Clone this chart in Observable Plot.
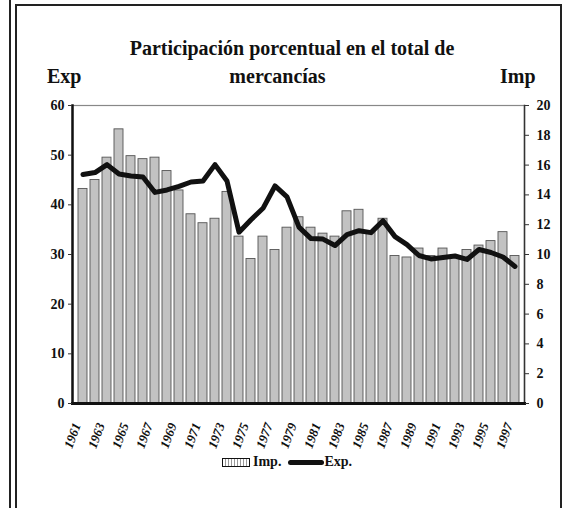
<!DOCTYPE html>
<html>
<head>
<meta charset="utf-8">
<script src="https://cdn.jsdelivr.net/npm/d3@7"></script>
<script src="https://cdn.jsdelivr.net/npm/@observablehq/plot@0.6"></script>
<style>
  body { margin: 0; background: #fff; }
  #wrap { position: relative; width: 569px; height: 508px; overflow: hidden; font-family: "Liberation Serif", serif; font-weight: bold; color: #111; }
  #wrap svg { position: absolute; left: 0; top: 0; }
  .t { position: absolute; white-space: nowrap; line-height: 1; }
  .vline { position: absolute; background: #222; }
</style>
</head>
<body>
<div id="wrap">
  <div class="vline" style="left:9px;top:0;width:2px;height:508px"></div>
  <div style="position:absolute;left:15px;top:4px;width:543px;height:520px;border:2px solid #222;border-bottom:none;"></div>
  <div class="t" style="left:0;width:584px;text-align:center;top:38px;font-size:20px;">Participación porcentual en el total de</div>
  <div class="t" style="left:0;width:555px;text-align:center;top:66px;font-size:20px;">mercancías</div>
  <div class="t" style="left:47px;top:66px;font-size:20px;">Exp</div>
  <div class="t" style="left:500px;top:66px;font-size:20px;">Imp</div>
  <div id="legend" class="t" style="left:222px;top:455px;font-size:14px;display:flex;align-items:center;">
    <span style="display:inline-block;width:26px;height:7px;border:1.5px solid #111;background:repeating-linear-gradient(90deg,#fff 0 2px,#999 2px 3px);"></span>
    <span style="margin-left:3px;">Imp.</span>
    <span style="display:inline-block;width:36px;height:5px;background:#111;border-radius:3px;margin-left:7px;"></span>
    <span>Exp.</span>
  </div>
</div>
<script>
const years = [1961,1962,1963,1964,1965,1966,1967,1968,1969,1970,1971,1972,1973,1974,1975,1976,1977,1978,1979,1980,1981,1982,1983,1984,1985,1986,1987,1988,1989,1990,1991,1992,1993,1994,1995,1996,1997];
const impValues = [14.4,15.0,16.5,18.4,16.6,16.4,16.5,15.6,14.3,12.7,12.1,12.4,14.2,11.2,9.7,11.2,10.3,11.8,12.5,11.8,11.4,11.2,12.9,13.0,11.5,12.4,9.9,9.8,10.4,9.9,10.4,9.9,10.3,10.6,10.9,11.5,9.9];
const expValues = [46.1,46.5,48.1,46.2,45.8,45.6,42.5,43.0,43.7,44.6,44.8,48.1,44.8,34.5,37.0,39.3,43.8,41.6,35.5,33.2,33.1,31.8,34.0,34.8,34.4,36.8,33.6,32.0,29.8,29.1,29.4,29.7,29.0,31.0,30.4,29.5,27.6];
const expTicks = [0,10,20,30,40,50,60];
const impTicks = [0,2,4,6,8,10,12,14,16,18,20];
const yearLabels = [1961,1963,1965,1967,1969,1971,1973,1975,1977,1979,1981,1983,1985,1987,1989,1991,1993,1995,1997];

const ratio = 60 / 20; // right axis (Imp) mapped onto left axis (Exp)
const rows = years.map((year, i) => ({year, imp: impValues[i], exp: expValues[i]}));

const font = {fontFamily: "Liberation Serif", fontWeight: "bold"};

const chart = Plot.plot({
  width: 569,
  height: 508,
  marginLeft: 72,
  marginRight: 45,
  marginTop: 105,
  marginBottom: 105,
  style: {background: "transparent", overflow: "visible"},
  x: {type: "band", domain: years, paddingInner: 0.28, paddingOuter: 0.14},
  y: {domain: [0, 60]},
  marks: [
    Plot.barY(rows, {x: "year", y: d => d.imp * ratio, fill: "#c2c2c2", stroke: "#555", strokeWidth: 0.9}),
    Plot.frame({stroke: "#888", strokeWidth: 1.2}),
    Plot.frame({anchor: "left", stroke: "#111", strokeWidth: 2.5}),
    Plot.frame({anchor: "right", stroke: "#333", strokeWidth: 1.5}),
    Plot.frame({anchor: "bottom", stroke: "#111", strokeWidth: 3}),
    Plot.line(rows, {x: "year", y: "exp", stroke: "#111", strokeWidth: 5, strokeLinejoin: "round", strokeLinecap: "round"}),
    Plot.axisY(expTicks, {anchor: "left", tickSize: 4, tickPadding: 4, fontSize: 14, ...font, fill: "#111", stroke: "#333", label: null}),
    Plot.axisY(impTicks.map(v => v * ratio), {anchor: "right", tickSize: 4, tickPadding: 8, fontSize: 14, ...font, fill: "#111", stroke: "#333", tickFormat: v => String(Math.round(v / ratio)), label: null}),
    Plot.axisX(yearLabels, {anchor: "bottom", tickSize: 0, tickPadding: 20, tickRotate: -70, dx: -6, fontSize: 13, ...font, fontStyle: "italic", fill: "#111", tickFormat: d => String(d), label: null})
  ]
});
document.getElementById("wrap").appendChild(chart);
</script>
</body>
</html>
